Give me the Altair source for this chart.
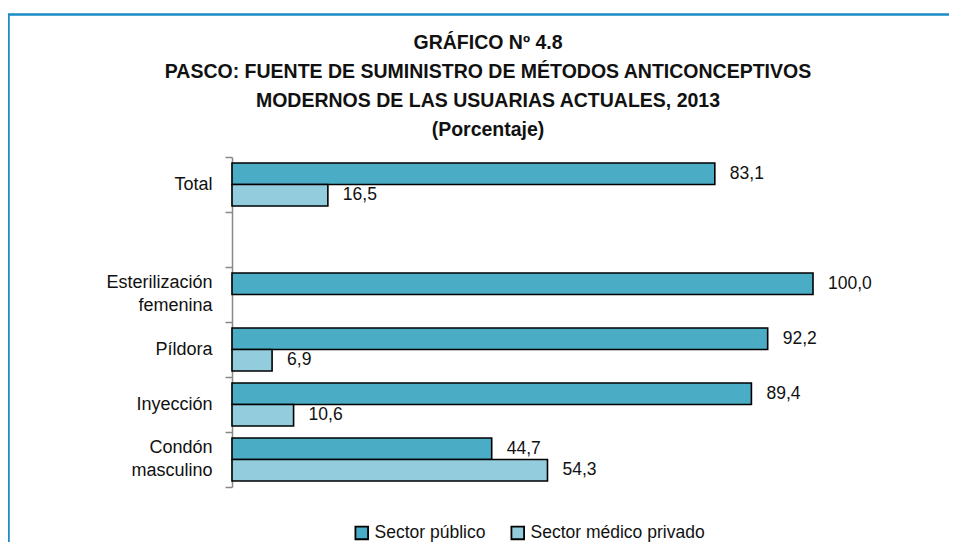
import altair as alt
import pandas as pd

# ---- data ----
categories = ["Total", " ", "Esterilización femenina", "Píldora", "Inyección", "Condón masculino"]
bar_categories = ["Total", "Esterilización femenina", "Píldora", "Inyección", "Condón masculino"]
series = ["Sector público", "Sector médico privado"]
publico = [83.1, 100.0, 92.2, 89.4, 44.7]
privado = [16.5, None, 6.9, 10.6, 54.3]
colors = ["#4BACC6", "#93CDDD"]
title_lines = [
    "GRÁFICO Nº 4.8",
    "PASCO: FUENTE DE SUMINISTRO DE MÉTODOS ANTICONCEPTIVOS",
    "MODERNOS DE LAS USUARIAS ACTUALES, 2013",
    "(Porcentaje)",
]

rows = []
for c, v in zip(bar_categories, publico):
    if v is not None:
        rows.append({"cat": c, "serie": series[0], "value": v})
for c, v in zip(bar_categories, privado):
    if v is not None:
        rows.append({"cat": c, "serie": series[1], "value": v})
df = pd.DataFrame(rows)
df["label"] = df["value"].map(lambda v: f"{v:.1f}".replace(".", ","))

FONT = "Liberation Sans, Arial, sans-serif"

y_enc = alt.Y(
    "cat:N",
    sort=categories,
    scale=alt.Scale(domain=categories, paddingInner=0, paddingOuter=0),
    axis=alt.Axis(
        title=None,
        tickBand="extent",
        labelExpr="split(datum.label, ' ')",
        labelFont=FONT,
        labelFontSize=18,
        labelColor="#111111",
        labelPadding=13,
        labelLineHeight=23,
        labelOffset={
            "condition": {"test": "indexof(datum.label, ' ') > 0", "value": -12},
            "value": 0,
        },
        domainColor="#888888",
        domainWidth=1.5,
        tickColor="#888888",
        tickWidth=1.5,
        tickSize=7,
        grid=False,
    ),
)
yoff_enc = alt.YOffset(
    "serie:N",
    sort=series,
    scale=alt.Scale(domain=series, paddingInner=0, paddingOuter=0.28),
)
x_enc = alt.X("value:Q", scale=alt.Scale(domain=[0, 100], nice=False, zero=True), axis=None)

base = alt.Chart(df)

bars = base.mark_bar(stroke="black", strokeWidth=1.6).encode(
    x=x_enc,
    y=y_enc,
    yOffset=yoff_enc,
    color=alt.Color(
        "serie:N",
        sort=series,
        scale=alt.Scale(domain=series, range=colors),
        legend=alt.Legend(
            title=None,
            orient="none",
            direction="horizontal",
            legendX=121,
            legendY=367,
            symbolType="square",
            symbolSize=160,
            symbolStrokeColor="black",
            symbolStrokeWidth=1.8,
            symbolOpacity=1,
            labelFont=FONT,
            labelFontSize=17.5,
            labelColor="#111111",
            labelOffset=4,
            labelLimit=0,
            columnPadding=21,
            padding=0,
        ),
    ),
)

text = base.mark_text(
    align="left", baseline="middle", dx=15, font=FONT, fontSize=17.5, color="#111111"
).encode(x=x_enc, y=y_enc, yOffset=yoff_enc, text="label:N")

title = alt.Chart(pd.DataFrame({"t": ["\n".join(title_lines)]})).mark_text(
    align="center",
    baseline="top",
    lineBreak="\n",
    lineHeight=29,
    font=FONT,
    fontSize=19.5,
    fontWeight="bold",
    color="#111111",
).encode(x=alt.value(256), y=alt.value(-123.5), text="t:N")

frame = alt.Chart(pd.DataFrame({"k": [0]})).mark_rect(
    fillOpacity=0, stroke="#1a8cc8", strokeWidth=2.5
).encode(
    x=alt.value(-223.5), x2=alt.value(900), y=alt.value(-142.5), y2=alt.value(700)
)

chart = (
    alt.layer(frame, title, bars, text)
    .properties(
        width=581,
        height=330,
        autosize=alt.AutoSizeParams(type="none"),
        padding={"left": 224, "top": 149, "right": 136, "bottom": 55},
    )
    .configure_view(stroke=None)
)

chart.save("out.html", embed_options={"renderer": "svg", "actions": False})
